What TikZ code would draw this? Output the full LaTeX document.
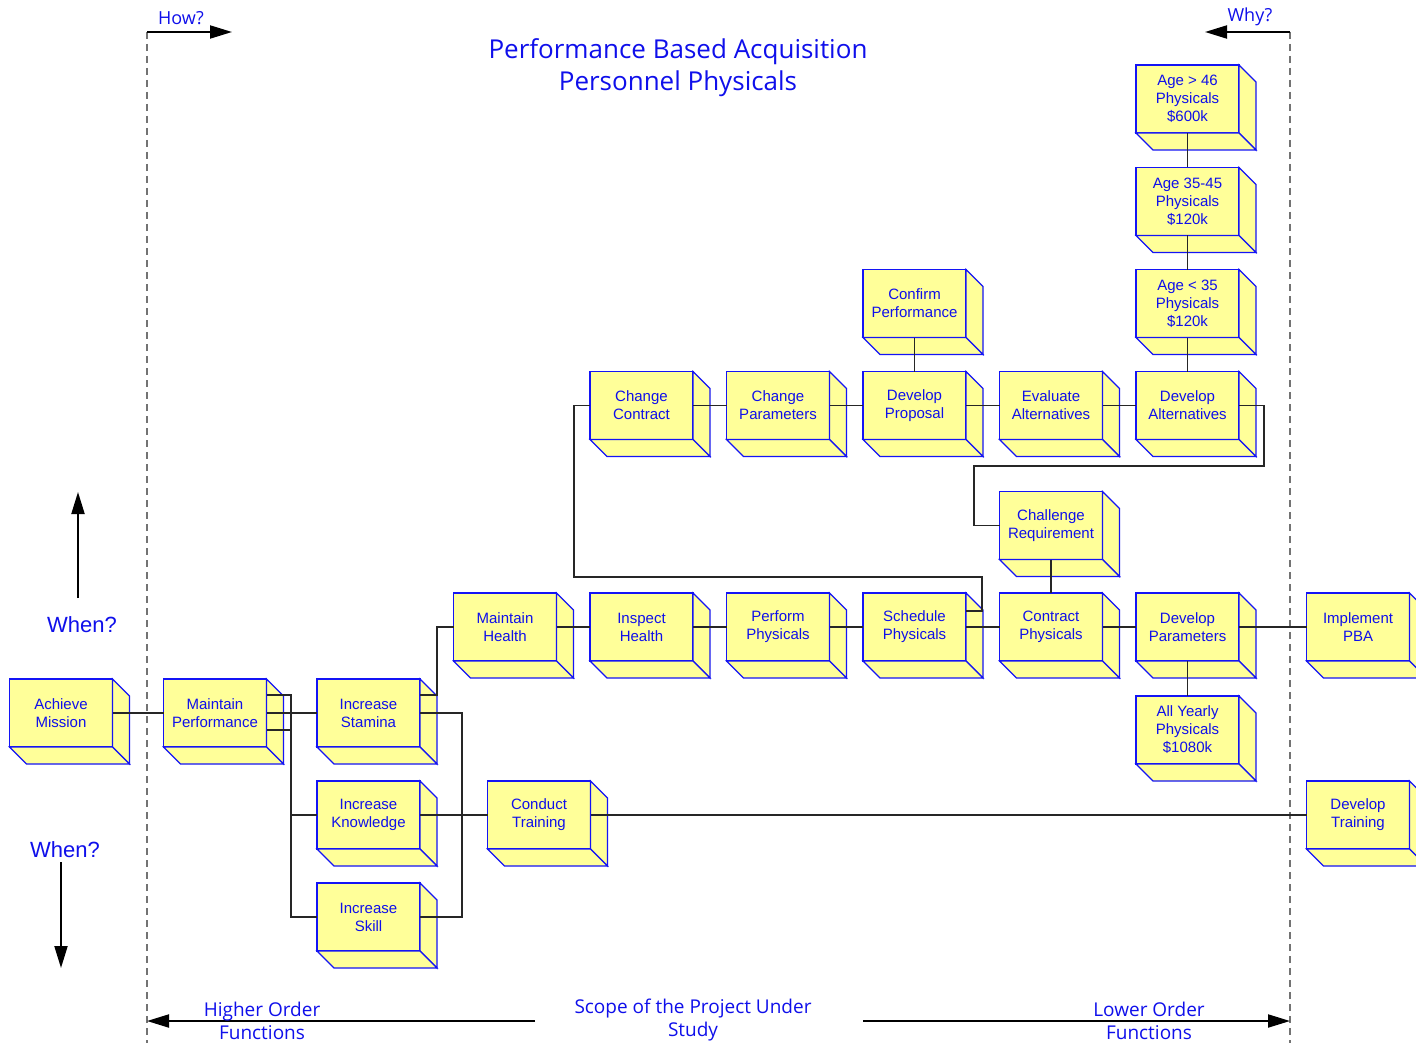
\documentclass[tikz,border=0pt]{standalone}
\usepackage{fontspec}
\setmainfont{Liberation Sans}
\newfontfamily\comicf{Open Sans}
\usetikzlibrary{arrows.meta}
\definecolor{cubeyellow}{RGB}{255,255,153}
\definecolor{cubeblue}{RGB}{20,20,245}
\definecolor{txtblue}{RGB}{15,15,235}
\tikzset{
  cubebox/.style={rectangle, draw=cubeblue, fill=cubeyellow, line width=1.1pt,
    minimum width=103pt, minimum height=68pt, inner sep=0pt, outer sep=0pt,
    align=center, text=txtblue, font=\fontsize{15}{18}\selectfont},
  cubeside/.style={draw=cubeblue, fill=cubeyellow, line width=1.1pt, line join=miter},
  conn/.style={draw=black!85, line width=1.3pt},
  scopeline/.style={draw=black!55, line width=1.1pt, dash pattern=on 7pt off 5pt},
  bigarrow/.style={draw=black, line width=2pt, -{Triangle[length=22pt,width=13pt]}},
  comictxt/.style={text=txtblue, align=center, inner sep=0pt},
  whentxt/.style={text=txtblue, inner sep=0pt, font=\fontsize{22}{26}\selectfont}
}
\newcommand\cubenode[4]{%
  \node[cubebox] (#1) at (#2,#3) {#4};
  \filldraw[cubeside] (#1.north east) -- ++(17,17) -- ++(0,68) -- (#1.south east) -- cycle;
  \filldraw[cubeside] (#1.south west) -- (#1.south east) -- ++(17,17) -- ++(-103,0) -- cycle;
}
\begin{document}
\begin{tikzpicture}[x=1pt,y=-1pt]
\useasboundingbox (0,0) rectangle (1416,1043);
\fill[white] (0,0) rectangle (1416,1043);

% scope lines
\coordinate (LT) at (147,32);
\coordinate (LB) at (147,1043);
\coordinate (RT) at (1290,32);
\coordinate (RB) at (1290,1043);
\draw[scopeline] (LT) -- (LB);
\draw[scopeline] (RT) -- (RB);

% How / Why
\coordinate (howend) at (232,32);
\coordinate (whyend) at (1205,32);
\draw[bigarrow] (LT) -- (howend);
\draw[bigarrow] (RT) -- (whyend);
\node[comictxt, font=\comicf\fontsize{18}{22}\selectfont] (how) at (181,18) {How?};
\node[comictxt, font=\comicf\fontsize{18}{22}\selectfont] (why) at (1250,17) {Why?};

% Title
\node[comictxt, font=\comicf\fontsize{26}{32}\selectfont] (title) at (678,68)
  {Performance Based Acquisition\\Personnel Physicals};

% When arrows
\node[whentxt] (when1) at (82,625) {When?};
\node[whentxt] (when2) at (65,850) {When?};
\coordinate (wu1) at (78,598);
\coordinate (wu2) at (78,492);
\coordinate (wd1) at (61,862);
\coordinate (wd2) at (61,968);
\draw[bigarrow] (wu1) -- (wu2);
\draw[bigarrow] (wd1) -- (wd2);

% bottom arrows
\coordinate (hl1) at (535,1021);
\coordinate (hl2) at (147,1021);
\coordinate (ll1) at (863,1021);
\coordinate (ll2) at (1290,1021);
\draw[bigarrow] (hl1) -- (hl2);
\draw[bigarrow] (ll1) -- (ll2);
\node[comictxt, font=\comicf\fontsize{19}{23}\selectfont] (hof) at (262,1021) {Higher Order\\Functions};
\node[comictxt, font=\comicf\fontsize{19}{23}\selectfont] (lof) at (1149,1021) {Lower Order\\Functions};
\node[comictxt, font=\comicf\fontsize{19}{23}\selectfont] (scp) at (693,1020) {Scope of the Project Under\\Study};

% cubes
\cubenode{AM}{61}{713}{Achieve\\Mission}
\cubenode{MP}{215}{713}{Maintain\\Performance}
\cubenode{IS}{368.5}{713}{Increase\\Stamina}
\cubenode{IK}{368.5}{815}{Increase\\Knowledge}
\cubenode{ISk}{368.5}{917}{Increase\\Skill}
\cubenode{CT}{539}{815}{Conduct\\Training}
\cubenode{DT}{1358}{815}{Develop\\Training}

\cubenode{MH}{505}{627}{Maintain\\Health}
\cubenode{IH}{641.5}{627}{Inspect\\Health}
\cubenode{PP}{778}{627}{Perform\\Physicals}
\cubenode{SP}{914.5}{627}{Schedule\\Physicals}
\cubenode{KP}{1051}{627}{Contract\\Physicals}
\cubenode{DPa}{1187.5}{627}{Develop\\Parameters}
\cubenode{IP}{1358}{627}{Implement\\PBA}
\cubenode{AY}{1187.5}{730}{All Yearly\\Physicals\\\$1080k}

\cubenode{CR}{1051}{525.5}{Challenge\\Requirement}

\cubenode{CC}{641.5}{405.5}{Change\\Contract}
\cubenode{CPa}{778}{405.5}{Change\\Parameters}
\cubenode{DPr}{914.5}{405.5}{Develop\\Proposal}
\cubenode{EA}{1051}{405.5}{Evaluate\\Alternatives}
\cubenode{DA}{1187.5}{405.5}{Develop\\Alternatives}

\cubenode{CfP}{914.5}{303.5}{Confirm\\Performance}
\cubenode{A35}{1187.5}{303.5}{Age < 35\\Physicals\\\$120k}
\cubenode{A45}{1187.5}{201.5}{Age 35-45\\Physicals\\\$120k}
\cubenode{A46}{1187.5}{99}{Age > 46\\Physicals\\\$600k}

% connectors
\coordinate (t1) at (291,0);
\coordinate (t2) at (437,0);
\coordinate (t3) at (462,0);
\coordinate (mpa) at ([yshift=18pt]MP.east);
\coordinate (mpb) at ([yshift=-17pt]MP.east);
\coordinate (isa) at ([yshift=18pt]IS.east);
\draw[conn] (AM.east) -- (MP.west);
\draw[conn] (MP.east) -- (IS.west);
\draw[conn] (mpa) -| (t1 |- ISk.west) -- (ISk.west);
\draw[conn] (mpb) -- (t1 |- mpb);
\draw[conn] (t1 |- IK.west) -- (IK.west);
\draw[conn] (isa) -| (t2 |- MH.west) -- (MH.west);
\draw[conn] (IS.east) -| (t3 |- ISk.east) -- (ISk.east);
\draw[conn] (IK.east) -- (CT.west);
\draw[conn] (CT.east) -- (DT.west);

\draw[conn] (MH.east) -- (IH.west);
\draw[conn] (IH.east) -- (PP.west);
\draw[conn] (PP.east) -- (SP.west);
\draw[conn] (SP.east) -- (KP.west);
\draw[conn] (KP.east) -- (DPa.west);
\draw[conn] (DPa.east) -- (IP.west);
\draw[conn] (DPa.south) -- (AY.north);
\draw[conn] (CR.south) -- (KP.north);

\coordinate (spa) at ([yshift=16pt]SP.east);
\coordinate (k1) at (982,577);
\coordinate (k2) at (574,577);
\draw[conn] (spa) -| (k1) -- (k2) |- (CC.west);

\draw[conn] (CC.east) -- (CPa.west);
\draw[conn] (CPa.east) -- (DPr.west);
\draw[conn] (DPr.east) -- (EA.west);
\draw[conn] (EA.east) -- (DA.west);
\draw[conn] (CfP.south) -- (DPr.north);
\draw[conn] (A35.south) -- (DA.north);
\draw[conn] (A45.south) -- (A35.north);
\draw[conn] (A46.south) -- (A45.north);

\coordinate (k3) at (1264,466);
\coordinate (k4) at (974,466);
\draw[conn] (DA.east) -| (k3) -- (k4) |- (CR.west);
\end{tikzpicture}
\end{document}
